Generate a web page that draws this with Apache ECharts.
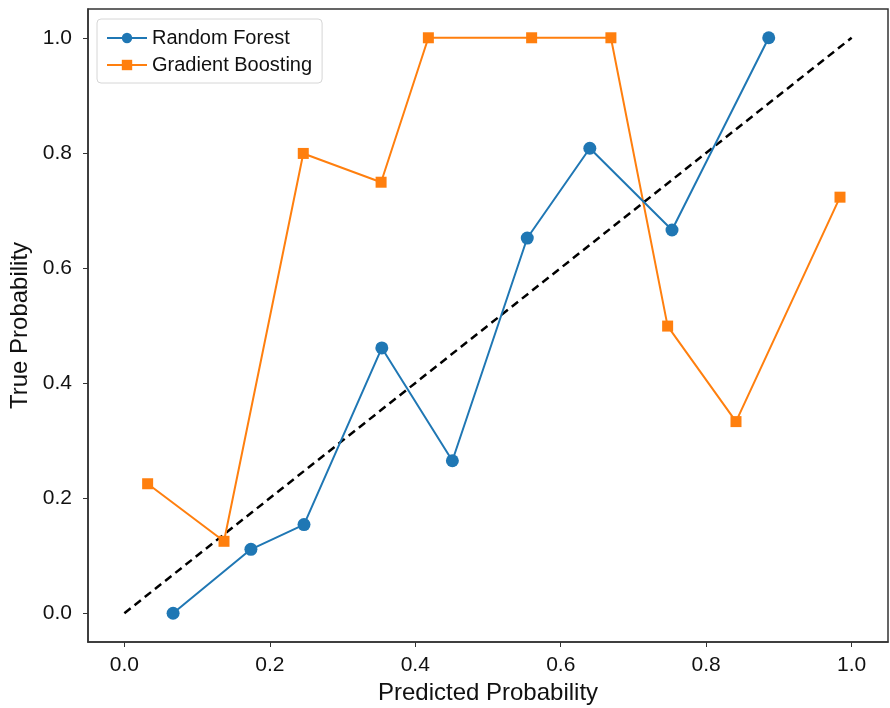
<!DOCTYPE html>
<html>
<head>
<meta charset="utf-8">
<script src="https://cdn.jsdelivr.net/npm/echarts@6/dist/echarts.min.js"></script>
<style>
  html, body { margin: 0; padding: 0; background: #fff; }
  #chart { width: 890px; height: 708px; }
</style>
</head>
<body>
<div id="chart"></div>
<script>
// calibration curve data
const rfX = [0.067, 0.174, 0.247, 0.354, 0.451, 0.554, 0.640, 0.753, 0.886]
const rfY = [0.0, 0.111, 0.154, 0.461, 0.265, 0.652, 0.808, 0.666, 1.0]
const gbX = [0.032, 0.137, 0.246, 0.353, 0.418, 0.560, 0.669, 0.747, 0.841, 0.984]
const gbY = [0.225, 0.125, 0.799, 0.749, 1.0, 1.0, 1.0, 0.499, 0.333, 0.723]
const diagX = [0.0, 1.0]
const diagY = [0.0, 1.0]
const tickValues = [0.0, 0.2, 0.4, 0.6, 0.8, 1.0]

const pairs = (xs, ys) => xs.map((x, i) => [x, ys[i]])
const font = 'Liberation Sans, Arial, sans-serif'

const chart = echarts.init(document.getElementById('chart'))
chart.setOption({
  backgroundColor: '#fff',
  animation: false,
  textStyle: { fontFamily: font },
  grid: {
    left: 88, right: 2, top: 9, bottom: 66,
    outerBoundsMode: 'none',
    show: true, borderColor: '#333', borderWidth: 1.5
  },
  legend: {
    left: 97, top: 19, orient: 'vertical',
    padding: [9, 10, 8, 9],
    itemGap: 7,
    itemWidth: 40, itemHeight: 13,
    borderColor: '#d6d6d6', borderWidth: 1, borderRadius: 4,
    backgroundColor: '#fff',
    textStyle: { fontSize: 20, color: '#111', fontFamily: font },
    data: ['Random Forest', 'Gradient Boosting']
  },
  xAxis: {
    type: 'value', min: -0.05, max: 1.05,
    name: 'Predicted Probability', nameLocation: 'middle', nameGap: 38,
    nameTextStyle: { fontSize: 24, color: '#111' },
    axisLine: { show: true, onZero: false, lineStyle: { color: '#333', width: 1.5 } },
    axisTick: { show: true, customValues: tickValues, length: 5, lineStyle: { color: '#333' } },
    axisLabel: { customValues: tickValues, fontSize: 21, color: '#111', margin: 13,
      formatter: v => v.toFixed(1) },
    splitLine: { show: false }
  },
  yAxis: {
    type: 'value', min: -0.05, max: 1.05,
    name: 'True Probability', nameLocation: 'middle', nameGap: 50,
    nameTextStyle: { fontSize: 24, color: '#111' },
    axisLine: { show: true, onZero: false, lineStyle: { color: '#333', width: 1.5 } },
    axisTick: { show: true, customValues: tickValues, length: 5, lineStyle: { color: '#333' } },
    axisLabel: { customValues: tickValues, fontSize: 21, color: '#111', margin: 16,
      formatter: v => v.toFixed(1) },
    splitLine: { show: false }
  },
  series: [
    {
      name: 'Perfect',
      type: 'line',
      data: pairs(diagX, diagY),
      showSymbol: false,
      lineStyle: { color: '#000', width: 2.5, type: [8, 5] },
      z: 1
    },
    {
      name: 'Random Forest',
      type: 'line',
      data: pairs(rfX, rfY),
      symbol: 'circle', symbolSize: 13,
      itemStyle: { color: '#1f77b4' },
      lineStyle: { color: '#1f77b4', width: 2 },
      z: 3
    },
    {
      name: 'Gradient Boosting',
      type: 'line',
      data: pairs(gbX, gbY),
      symbol: 'rect', symbolSize: 11,
      itemStyle: { color: '#ff7f0e' },
      lineStyle: { color: '#ff7f0e', width: 2 },
      z: 2
    }
  ]
})
</script>
</body>
</html>
